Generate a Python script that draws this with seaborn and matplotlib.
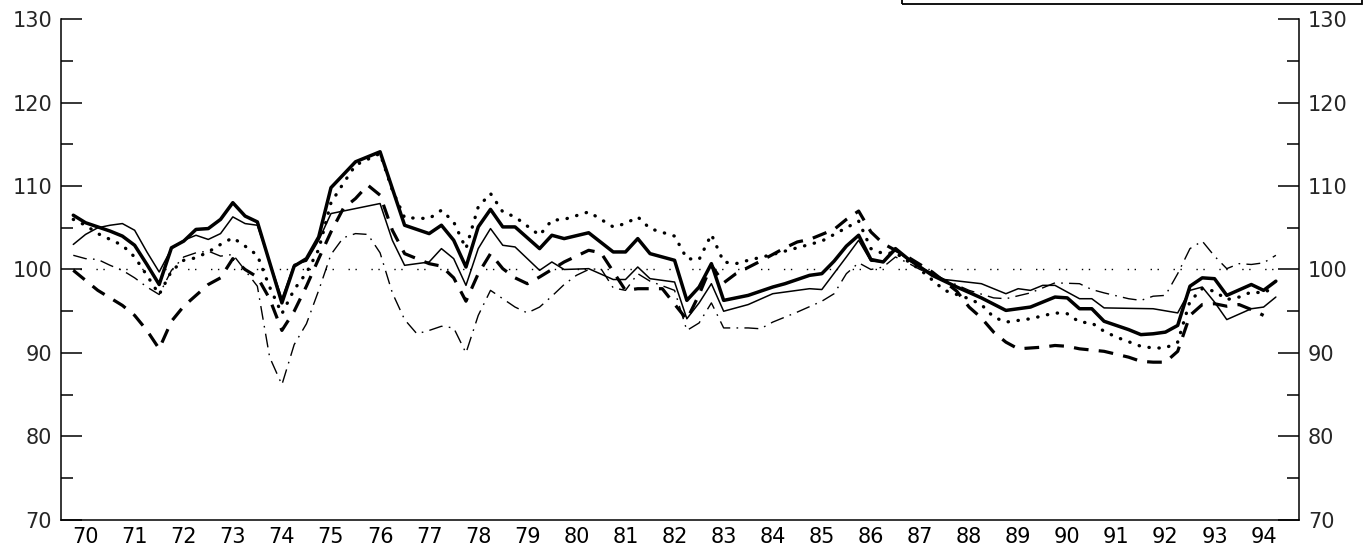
import matplotlib
matplotlib.use('Agg')
import matplotlib.pyplot as plt
import matplotlib.transforms as mtransforms
from matplotlib.patches import Rectangle
from matplotlib.ticker import MultipleLocator
import seaborn as sns
import pandas as pd
import numpy as np

# Year axis
years = list(range(1970, 1995))
year_labels = [str(y)[2:] for y in years]
base_level = 100

# Quarter index since 1970 (1 = first quarter of 1970) and index value, per series
a_q = [1, 2, 4, 5, 6, 7, 8, 9, 10, 11, 12, 13, 14, 15, 16, 18, 19, 20, 21, 22,
       24, 26, 28, 30, 31, 32, 33, 34, 35, 36, 37, 39, 40, 41, 43, 45, 46, 47, 48, 50,
       51, 52, 53, 54, 56, 58, 59, 61, 62, 63, 64, 65, 66, 67, 68, 69, 70, 71, 73, 75,
       77, 79, 81, 82, 83, 84, 85, 87, 88, 89, 90, 91, 92, 93, 94, 95, 97, 98, 99]
a_v = [106.5, 105.6, 104.6, 104.0, 102.9, 100.6, 98.2, 102.6, 103.4, 104.8, 104.9, 106.0, 108.0, 106.4, 105.7, 96.0, 100.4, 101.3, 103.9, 109.8,
       112.9, 114.1, 105.3, 104.3, 105.3, 103.5, 100.3, 105.1, 107.2, 105.1, 105.1, 102.5, 104.1, 103.7, 104.4, 102.1, 102.1, 103.7, 101.9, 101.1,
       96.3, 97.9, 100.7, 96.3, 96.9, 97.9, 98.3, 99.3, 99.5, 101.0, 102.8, 104.1, 101.2, 100.9, 102.5, 101.3, 100.3, 99.3, 97.9, 96.6,
       95.1, 95.5, 96.7, 96.6, 95.3, 95.3, 93.8, 92.8, 92.2, 92.3, 92.5, 93.3, 98.0, 99.0, 98.9, 96.9, 98.2, 97.5, 98.6]

b_q = [1, 2, 3, 4, 5, 6, 7, 8, 9, 10, 11, 12, 13, 14, 15, 16, 18, 19, 20, 21,
       22, 26, 27, 28, 30, 31, 32, 33, 34, 35, 36, 37, 39, 40, 41, 43, 45, 46, 47, 48,
       50, 51, 52, 53, 54, 56, 58, 59, 61, 62, 64, 65, 66, 67, 68, 69, 70, 72, 75, 77,
       78, 79, 80, 81, 83, 84, 85, 89, 91, 92, 93, 94, 95, 97, 98, 99]
b_v = [103.0, 104.2, 105.0, 105.3, 105.5, 104.7, 102.1, 99.7, 102.5, 103.5, 104.1, 103.6, 104.3, 106.3, 105.5, 105.3, 96.5, 100.6, 101.0, 103.5,
       106.7, 107.9, 103.5, 100.5, 100.9, 102.5, 101.3, 98.1, 102.5, 104.9, 102.9, 102.7, 99.9, 100.9, 100.0, 100.1, 98.8, 98.8, 100.3, 98.9,
       98.5, 94.1, 96.0, 98.3, 95.0, 95.8, 97.1, 97.3, 97.7, 97.6, 101.5, 103.5, 101.0, 100.9, 102.3, 101.2, 100.3, 98.8, 98.3, 97.1,
       97.7, 97.5, 98.1, 98.1, 96.5, 96.5, 95.4, 95.3, 94.8, 97.5, 97.9, 96.1, 94.0, 95.3, 95.5, 96.7]

c_q = [1, 2, 3, 4, 5, 6, 7, 8, 9, 10, 11, 12, 13, 14, 15, 16, 17, 18, 19, 20,
       21, 22, 23, 24, 26, 27, 28, 30, 31, 32, 33, 34, 35, 36, 37, 39, 40, 41, 43, 45,
       46, 47, 48, 50, 51, 52, 53, 54, 55, 56, 58, 60, 62, 64, 65, 66, 67, 68, 69, 70,
       72, 74, 75, 76, 77, 78, 79, 81, 82, 83, 84, 85, 86, 88, 89, 90, 91, 92, 93, 94,
       95, 96, 97, 98, 99]
c_v = [106.0, 105.3, 104.3, 103.6, 102.9, 101.5, 99.3, 97.0, 99.8, 101.1, 101.4, 102.1, 103.0, 103.8, 102.8, 101.7, 97.9, 94.7, 97.6, 99.6,
       102.4, 108.0, 110.3, 112.5, 113.9, 109.5, 106.2, 106.1, 107.1, 105.7, 102.5, 107.5, 109.1, 106.9, 106.3, 104.1, 105.9, 106.0, 106.9, 105.1,
       105.5, 106.3, 104.9, 104.0, 101.3, 101.2, 104.2, 100.9, 100.7, 101.1, 101.8, 102.6, 103.4, 105.0, 105.8, 102.5, 101.9, 102.0, 101.0, 100.0,
       97.5, 96.5, 95.8, 94.3, 93.7, 93.9, 94.1, 94.8, 94.7, 93.7, 93.6, 92.6, 91.9, 90.8, 90.6, 90.6, 91.3, 96.2, 97.7, 97.4,
       96.4, 96.7, 97.3, 97.2, 98.0]

d_q = [1, 3, 5, 6, 7, 8, 9, 10, 11, 12, 13, 14, 15, 16, 17, 18, 19, 20, 21, 22,
       23, 24, 25, 26, 27, 28, 29, 30, 31, 32, 33, 34, 35, 36, 37, 38, 39, 41, 43, 44,
       46, 47, 49, 51, 52, 53, 54, 55, 57, 59, 60, 61, 63, 64, 65, 66, 67, 69, 71, 73,
       74, 75, 76, 77, 78, 80, 81, 82, 83, 85, 87, 88, 89, 90, 91, 92, 93, 94, 95, 96,
       97, 98]
d_v = [99.9, 97.5, 95.7, 94.5, 92.7, 90.5, 93.8, 95.6, 96.9, 98.2, 99.0, 101.3, 100.0, 99.1, 96.5, 92.7, 95.0, 98.0, 101.3, 104.5,
       107.3, 108.5, 110.1, 108.9, 104.7, 101.9, 101.3, 100.7, 100.4, 99.0, 96.2, 99.5, 101.9, 100.1, 99.0, 98.3, 99.1, 100.9, 102.3, 102.0,
       97.5, 97.7, 97.7, 94.0, 97.0, 100.5, 98.4, 99.5, 101.0, 102.6, 103.3, 103.6, 104.8, 106.0, 107.0, 104.5, 103.1, 101.5, 99.7, 97.4,
       95.5, 94.2, 92.5, 91.3, 90.5, 90.7, 90.9, 90.8, 90.5, 90.2, 89.5, 89.0, 88.9, 88.9, 90.2, 94.5, 95.8, 95.9, 95.6, 95.8,
       95.2, 94.5]

e_q = [1, 2, 3, 4, 5, 6, 7, 8, 9, 10, 11, 12, 13, 14, 15, 16, 17, 18, 19, 20,
       21, 22, 23, 24, 25, 26, 27, 28, 29, 30, 31, 32, 33, 34, 35, 36, 37, 38, 39, 40,
       41, 42, 43, 44, 45, 46, 47, 48, 50, 51, 52, 53, 54, 56, 57, 58, 60, 62, 63, 64,
       65, 66, 67, 68, 69, 70, 72, 74, 76, 77, 79, 81, 83, 84, 85, 87, 88, 89, 90, 91,
       92, 93, 94, 95, 96, 97, 98, 99]
e_v = [101.7, 101.3, 101.2, 100.5, 99.9, 99.0, 97.9, 97.0, 99.9, 101.5, 102.0, 102.2, 101.6, 101.8, 99.9, 98.0, 89.5, 86.2, 91.0, 93.5,
       97.5, 101.8, 103.8, 104.3, 104.2, 102.0, 97.2, 94.0, 92.3, 92.7, 93.2, 93.0, 90.0, 94.5, 97.5, 96.5, 95.5, 94.8, 95.5, 96.8,
       98.2, 99.3, 100.0, 100.1, 97.8, 97.5, 99.5, 98.6, 97.5, 92.7, 93.6, 96.0, 93.0, 93.0, 92.9, 93.7, 94.9, 96.2, 97.1, 99.5,
       100.8, 100.0, 100.3, 101.5, 100.8, 100.0, 98.8, 97.5, 96.6, 96.5, 97.2, 98.4, 98.3, 97.6, 97.2, 96.5, 96.3, 96.8, 96.9, 99.5,
       102.5, 103.4, 101.6, 100.1, 100.7, 100.6, 100.8, 101.7]

sns.set_theme(style='white')
plt.rcParams['font.family'] = ['DejaVu Sans']

fig = plt.figure(figsize=(13.65, 5.51), dpi=100)
ax = fig.add_axes([0.0447, 0.0563, 0.9069, 0.9092])

# line styles: thick solid, thin solid, dotted, dashed, dash-dot
styles = [
    (a_q, a_v, dict(lw=2.5, linestyle='-')),
    (b_q, b_v, dict(lw=1.1, linestyle='-')),
    (c_q, c_v, dict(lw=2.4, linestyle=(0, (0.1, 2.9)), dash_capstyle='round')),
    (d_q, d_v, dict(lw=2.3, linestyle=(0, (4.6, 3.2)), dash_capstyle='butt')),
    (e_q, e_v, dict(lw=1.0, linestyle=(0, (10, 4.5, 1.2, 4.5)), dash_capstyle='butt')),
]

t_first = 1970 + a_q[0] / 4
t_last = 1970 + a_q[-1] / 4
ax.hlines(base_level, t_first, t_last, color='black', lw=1.0,
          linestyles=[(0, (1, 4, 1, 10.5))])

for q, v, kw in styles:
    df = pd.DataFrame({'t': 1970 + np.array(q) / 4, 'v': v})
    sns.lineplot(data=df, x='t', y='v', ax=ax, color='black', sort=False,
                 estimator=None, legend=False, **kw)

ax.set_xlim(1970, 1995.22)
ax.set_ylim(70, 130)
ax.set_xlabel('')
ax.set_ylabel('')

ax.set_xticks(years + [years[-1] + 1])
ax.xaxis.set_minor_locator(MultipleLocator(0.25))
ax.set_yticks(range(70, 131, 10))
ax.yaxis.set_minor_locator(MultipleLocator(5))

ax.tick_params(axis='x', which='major', direction='in', length=8.6, width=1.1,
               labelbottom=False, color='black')
ax.tick_params(axis='x', which='minor', direction='in', length=4.6, width=1.1,
               color='black')
ax.tick_params(axis='y', which='major', direction='in', length=15, width=1.1,
               left=True, right=True, labelleft=True, labelright=True,
               labelsize=15, pad=6.5, color='black')
ax.tick_params(axis='y', which='minor', direction='in', length=8.4, width=1.1,
               left=True, right=True, color='black')

trans = mtransforms.blended_transform_factory(ax.transData, ax.transAxes)
for y, lab in zip(years, year_labels):
    ax.text(y + 0.5, -0.034, lab, transform=trans, ha='center', va='center',
            fontsize=15, color='black')

ax.spines['top'].set_visible(False)
for s in ['left', 'right', 'bottom']:
    ax.spines[s].set_linewidth(1.1)
    ax.spines[s].set_color('black')

# partially visible legend frame at the top edge
fig.patches.append(Rectangle((0.661, 1 - 4 / 551), 0.337, 0.05,
                             transform=fig.transFigure, fill=False,
                             lw=1.3, edgecolor='black', clip_on=False))

fig.savefig('out.png', dpi=100, facecolor='white')
